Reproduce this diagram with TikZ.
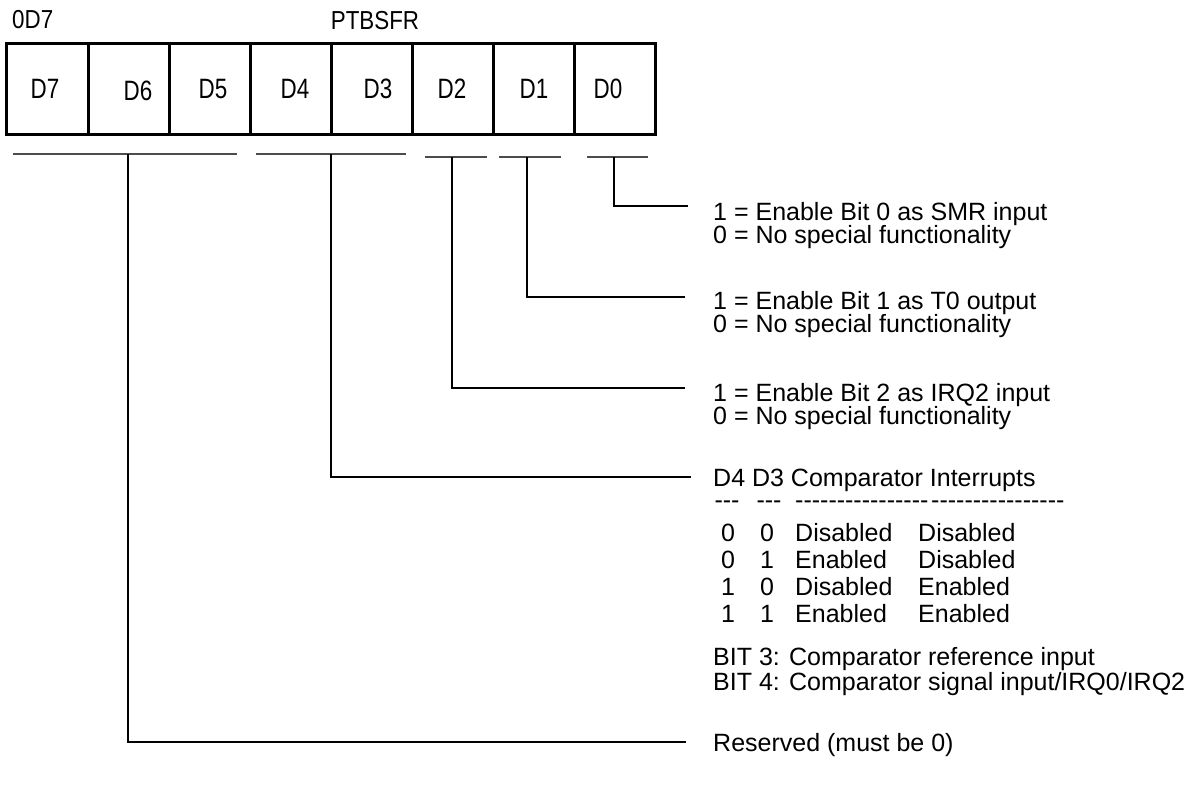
\documentclass[tikz,border=0pt]{standalone}
\usepackage{fontspec}
\setmainfont{Liberation Sans}
\newfontfamily\condfont[FakeStretch=0.8]{Liberation Sans}
\newfontfamily\headfont[FakeStretch=0.86]{Liberation Sans}
\begin{document}
\begin{tikzpicture}[x=1pt,y=-1pt,
  cell/.style={draw, line width=3pt, minimum height=91pt, inner sep=0pt, outer sep=0pt},
  bitlbl/.style={font=\condfont\fontsize{28}{28}\selectfont, inner sep=0pt, anchor=base},
  toplbl/.style={font=\headfont\fontsize{26}{26}\selectfont, inner sep=0pt},
  desc/.style={font=\fontsize{25}{25}\selectfont, anchor=base west, inner sep=0pt},
  colc/.style={font=\fontsize{25}{25}\selectfont, anchor=base, inner sep=0pt},
  dashrow/.style={text height=8pt, text depth=0pt},
  bar/.style={draw=black!70, line width=2pt},
  lead/.style={draw=black, line width=1.2pt},
]
\useasboundingbox (0,0) rectangle (1189,790);

% register title
\node[toplbl, anchor=base west] (addr) at (12,28) {0D7};
\node[toplbl, anchor=base] (name) at (375,29) {PTBSFR};

% register cells
\node[cell, minimum width=82pt] (c7) at (47,88.5) {};
\node[cell, minimum width=81pt] (c6) at (128.5,88.5) {};
\node[cell, minimum width=81pt] (c5) at (209.5,88.5) {};
\node[cell, minimum width=81pt] (c4) at (290.5,88.5) {};
\node[cell, minimum width=81pt] (c3) at (371.5,88.5) {};
\node[cell, minimum width=81pt] (c2) at (452.5,88.5) {};
\node[cell, minimum width=81pt] (c1) at (533.5,88.5) {};
\node[cell, minimum width=81pt] (c0) at (614.5,88.5) {};

\node[bitlbl] (l7) at (45,98) {D7};
\node[bitlbl] (l6) at (138,100.5) {D6};
\node[bitlbl] (l5) at (213,98) {D5};
\node[bitlbl] (l4) at (295,98) {D4};
\node[bitlbl] (l3) at (378,98) {D3};
\node[bitlbl] (l2) at (452,98) {D2};
\node[bitlbl] (l1) at (534,98) {D1};
\node[bitlbl] (l0) at (608,98) {D0};

% field bars
\coordinate (bAl) at (13,154);  \coordinate (bAr) at (237,154);
\coordinate (bBl) at (256,154); \coordinate (bBr) at (406,154);
\coordinate (bCl) at (425,157); \coordinate (bCr) at (487,157);
\coordinate (bDl) at (499,157); \coordinate (bDr) at (561,157);
\coordinate (bEl) at (587,157); \coordinate (bEr) at (648,157);
\draw[bar] (bAl) -- (bAr);
\draw[bar] (bBl) -- (bBr);
\draw[bar] (bCl) -- (bCr);
\draw[bar] (bDl) -- (bDr);
\draw[bar] (bEl) -- (bEr);

\coordinate (bA) at (128,154);
\coordinate (bB) at (331,154);
\coordinate (bC) at (452,157);
\coordinate (bD) at (527,157);
\coordinate (bE) at (614,157);

% descriptions
\node[desc] (t0a) at (713,220) {1 = Enable Bit 0 as SMR input};
\node[desc] (t0b) at (713,243) {0 = No special functionality};
\node[desc] (t1a) at (713,309) {1 = Enable Bit 1 as T0 output};
\node[desc] (t1b) at (713,332) {0 = No special functionality};
\node[desc] (t2a) at (713,401) {1 = Enable Bit 2 as IRQ2 input};
\node[desc] (t2b) at (713,424) {0 = No special functionality};
\node[desc] (t34) at (713,486) {D4 D3 Comparator Interrupts};

\node[colc, dashrow] (dsh1) at (727,508) {-{}-{}-};
\node[colc, dashrow] (dsh2) at (769,508) {-{}-{}-};
\node[desc, dashrow] (dsh3) at (795,508) {-{}-{}-{}-{}-{}-{}-{}-{}-{}-{}-{}-{}-{}-{}-{}-};
\node[desc, dashrow] (dsh4) at (931,508) {-{}-{}-{}-{}-{}-{}-{}-{}-{}-{}-{}-{}-{}-{}-{}-};

\node[colc] (r1a) at (728,541) {0}; \node[colc] (r1b) at (767,541) {0};
\node[desc] (r1c) at (795,541) {Disabled}; \node[desc] (r1d) at (918,541) {Disabled};
\node[colc] (r2a) at (728,568) {0}; \node[colc] (r2b) at (767,568) {1};
\node[desc] (r2c) at (795,568) {Enabled}; \node[desc] (r2d) at (918,568) {Disabled};
\node[colc] (r3a) at (728,595) {1}; \node[colc] (r3b) at (767,595) {0};
\node[desc] (r3c) at (795,595) {Disabled}; \node[desc] (r3d) at (918,595) {Enabled};
\node[colc] (r4a) at (728,622) {1}; \node[colc] (r4b) at (767,622) {1};
\node[desc] (r4c) at (795,622) {Enabled}; \node[desc] (r4d) at (918,622) {Enabled};

\node[desc] (b3) at (713,665) {BIT 3: Comparator reference input};
\node[desc] (b4) at (713,690) {BIT 4: Comparator signal input/IRQ0/IRQ2};
\node[desc] (res) at (713,751) {Reserved (must be 0)};

% leader ends
\coordinate (eE) at (688,206);
\coordinate (eD) at (685,297);
\coordinate (eC) at (685,388);
\coordinate (eB) at (691,477);
\coordinate (eA) at (686,742);

\draw[lead] (bE) |- (eE);
\draw[lead] (bD) |- (eD);
\draw[lead] (bC) |- (eC);
\draw[lead] (bB) |- (eB);
\draw[lead] (bA) |- (eA);
\end{tikzpicture}
\end{document}
